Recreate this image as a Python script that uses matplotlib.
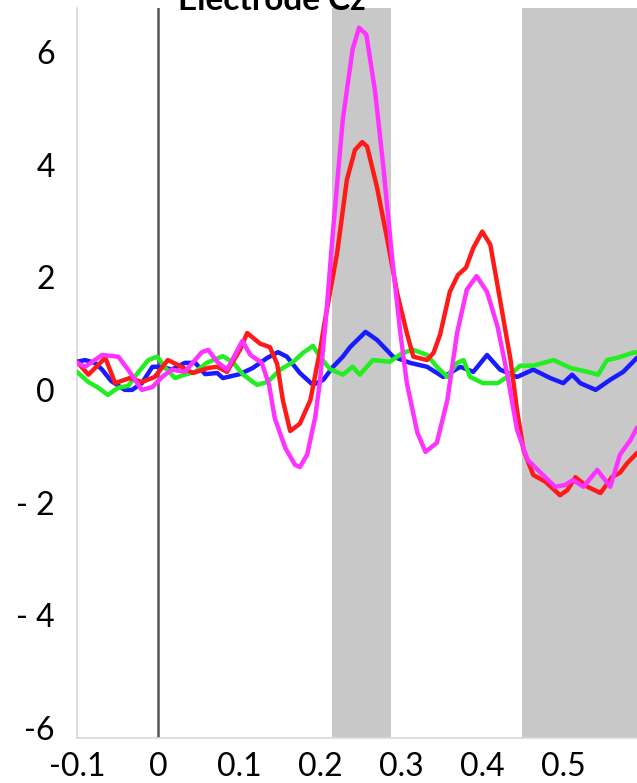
import matplotlib as mp
mp.use("Agg")
import matplotlib.pyplot as plt
import numpy as np

# time in s, amplitude in microvolts
t_red = [-0.100, -0.086, -0.065, -0.053, -0.035, -0.020, -0.004, 0.012, 0.025, 0.043,
         0.062, 0.073, 0.085, 0.101, 0.110, 0.126, 0.138, 0.147, 0.154, 0.163,
         0.175, 0.188, 0.200, 0.206, 0.221, 0.233, 0.243, 0.252, 0.258, 0.270,
         0.283, 0.295, 0.307, 0.315, 0.332, 0.340, 0.348, 0.360, 0.370, 0.380,
         0.389, 0.400, 0.410, 0.422, 0.435, 0.443, 0.451, 0.463, 0.478, 0.496,
         0.505, 0.515, 0.530, 0.546, 0.560, 0.570, 0.579, 0.591]
v_red = [0.50, 0.27, 0.57, 0.12, 0.21, 0.14, 0.23, 0.53, 0.44, 0.30,
         0.39, 0.41, 0.32, 0.71, 1.01, 0.82, 0.76, 0.46, -0.18, -0.73,
         -0.60, -0.18, 0.71, 1.24, 2.43, 3.73, 4.26, 4.40, 4.32, 3.61,
         2.66, 1.72, 1.01, 0.59, 0.53, 0.66, 0.98, 1.74, 2.04, 2.17,
         2.52, 2.81, 2.58, 1.60, 0.53, -0.36, -1.07, -1.51, -1.63, -1.87,
         -1.78, -1.55, -1.72, -1.83, -1.55, -1.47, -1.30, -1.12]

t_mag = [-0.100, -0.090, -0.069, -0.049, -0.037, -0.020, -0.007, 0.005, 0.017, 0.033,
         0.054, 0.062, 0.073, 0.085, 0.093, 0.104, 0.114, 0.128, 0.137, 0.144,
         0.157, 0.169, 0.175, 0.184, 0.194, 0.200, 0.207, 0.216, 0.228, 0.240,
         0.248, 0.257, 0.268, 0.278, 0.290, 0.299, 0.307, 0.320, 0.330, 0.344,
         0.357, 0.369, 0.381, 0.393, 0.406, 0.419, 0.431, 0.443, 0.456, 0.472,
         0.490, 0.502, 0.512, 0.525, 0.542, 0.558, 0.570, 0.583, 0.591]
v_mag = [0.48, 0.41, 0.62, 0.59, 0.36, 0.00, 0.05, 0.23, 0.36, 0.32,
         0.67, 0.71, 0.50, 0.36, 0.57, 0.87, 0.62, 0.48, 0.09, -0.50,
         -1.03, -1.33, -1.37, -1.15, -0.48, 0.18, 1.24, 2.84, 4.80, 6.04,
         6.43, 6.31, 5.28, 3.96, 2.18, 1.01, 0.12, -0.76, -1.10, -0.94,
         -0.18, 1.01, 1.78, 2.02, 1.74, 1.12, 0.27, -0.71, -1.24, -1.47,
         -1.72, -1.69, -1.60, -1.72, -1.42, -1.72, -1.15, -0.89, -0.67]

t_blue = [-0.100, -0.090, -0.078, -0.069, -0.058, -0.041, -0.032, -0.020, -0.007, 0.005,
          0.017, 0.033, 0.046, 0.058, 0.073, 0.080, 0.101, 0.117, 0.135, 0.148,
          0.159, 0.175, 0.191, 0.204, 0.216, 0.228, 0.237, 0.256, 0.270, 0.290,
          0.311, 0.332, 0.352, 0.373, 0.389, 0.406, 0.422, 0.443, 0.463, 0.484,
          0.500, 0.511, 0.521, 0.540, 0.558, 0.574, 0.591]
v_blue = [0.50, 0.53, 0.48, 0.36, 0.16, 0.00, 0.00, 0.12, 0.41, 0.41,
          0.36, 0.48, 0.48, 0.28, 0.30, 0.21, 0.28, 0.39, 0.57, 0.67,
          0.59, 0.30, 0.09, 0.18, 0.41, 0.59, 0.76, 1.03, 0.89, 0.59,
          0.48, 0.41, 0.23, 0.41, 0.32, 0.62, 0.36, 0.23, 0.36, 0.21,
          0.12, 0.27, 0.12, 0.00, 0.18, 0.32, 0.57]

t_green = [-0.100, -0.086, -0.074, -0.062, -0.049, -0.037, -0.025, -0.012, -0.001, 0.009,
           0.021, 0.033, 0.046, 0.060, 0.068, 0.080, 0.093, 0.105, 0.122, 0.135,
           0.151, 0.167, 0.179, 0.191, 0.200, 0.212, 0.228, 0.240, 0.249, 0.265,
           0.286, 0.302, 0.315, 0.332, 0.344, 0.357, 0.369, 0.377, 0.385, 0.401,
           0.419, 0.431, 0.447, 0.463, 0.488, 0.509, 0.530, 0.543, 0.554, 0.567,
           0.586, 0.591]
v_green = [0.32, 0.14, 0.04, -0.09, 0.04, 0.07, 0.30, 0.53, 0.59, 0.39,
           0.21, 0.27, 0.32, 0.48, 0.53, 0.60, 0.48, 0.27, 0.09, 0.14,
           0.36, 0.50, 0.66, 0.78, 0.59, 0.37, 0.27, 0.41, 0.27, 0.53,
           0.50, 0.66, 0.71, 0.62, 0.41, 0.23, 0.48, 0.53, 0.23, 0.12,
           0.12, 0.23, 0.43, 0.43, 0.53, 0.39, 0.32, 0.27, 0.53, 0.57,
           0.66, 0.67]

windows = [(0.215, 0.288), (0.449, 0.62)]
xticks = [-0.1, 0, 0.1, 0.2, 0.3, 0.4, 0.5]
xlabels = ["-0.1", "0", "0.1", "0.2", "0.3", "0.4", "0.5"]
yticks = [6, 4, 2, 0, -2, -4, -6]
ylabels = ["6", "4", "2", "0", "- 2", "- 4", "-6"]

plt.rcParams["font.family"] = ["Lato", "DejaVu Sans"]

fig = plt.figure(figsize=(6.37, 7.83), dpi=100)
ax = fig.add_axes([77/637, 45/783, 1 - 77/637, 730/783])

for a, b in windows:
    ax.axvspan(a, b, color="#c8c8c8", lw=0, zorder=0)
ax.axvline(0, color="#555555", lw=1.8, zorder=1)

kw = dict(lw=3.2, solid_joinstyle="round", solid_capstyle="round")
ax.plot(t_blue, v_blue, color="#1a1aff", zorder=3, **kw)
ax.plot(t_green, v_green, color="#22ee22", zorder=3, **kw)
ax.plot(t_red, v_red, color="#ff1a1a", zorder=4, **kw)
ax.plot(t_mag, v_mag, color="#ff33ff", zorder=5, **kw)

ax.set_xlim(-0.1, 0.591)
ax.set_ylim(-6.18, 6.78)
ax.set_xticks(xticks)
ax.set_xticklabels(xlabels)
ax.set_yticks(yticks)
ax.set_yticklabels(ylabels)
ax.tick_params(length=0, labelsize=23, pad=10)
ax.tick_params(axis="y", pad=16)

for s in ["top", "right"]:
    ax.spines[s].set_visible(False)
for s in ["left", "bottom"]:
    ax.spines[s].set_color("#d9d9d9")
    ax.spines[s].set_linewidth(1.2)

# title is mostly outside the frame, as in the cropped original
fig.text(272/637, 1 - 10/783, "Electrode Cz", ha="center", va="baseline",
         fontsize=24, fontweight="bold")

fig.savefig("out.png", dpi=100)
